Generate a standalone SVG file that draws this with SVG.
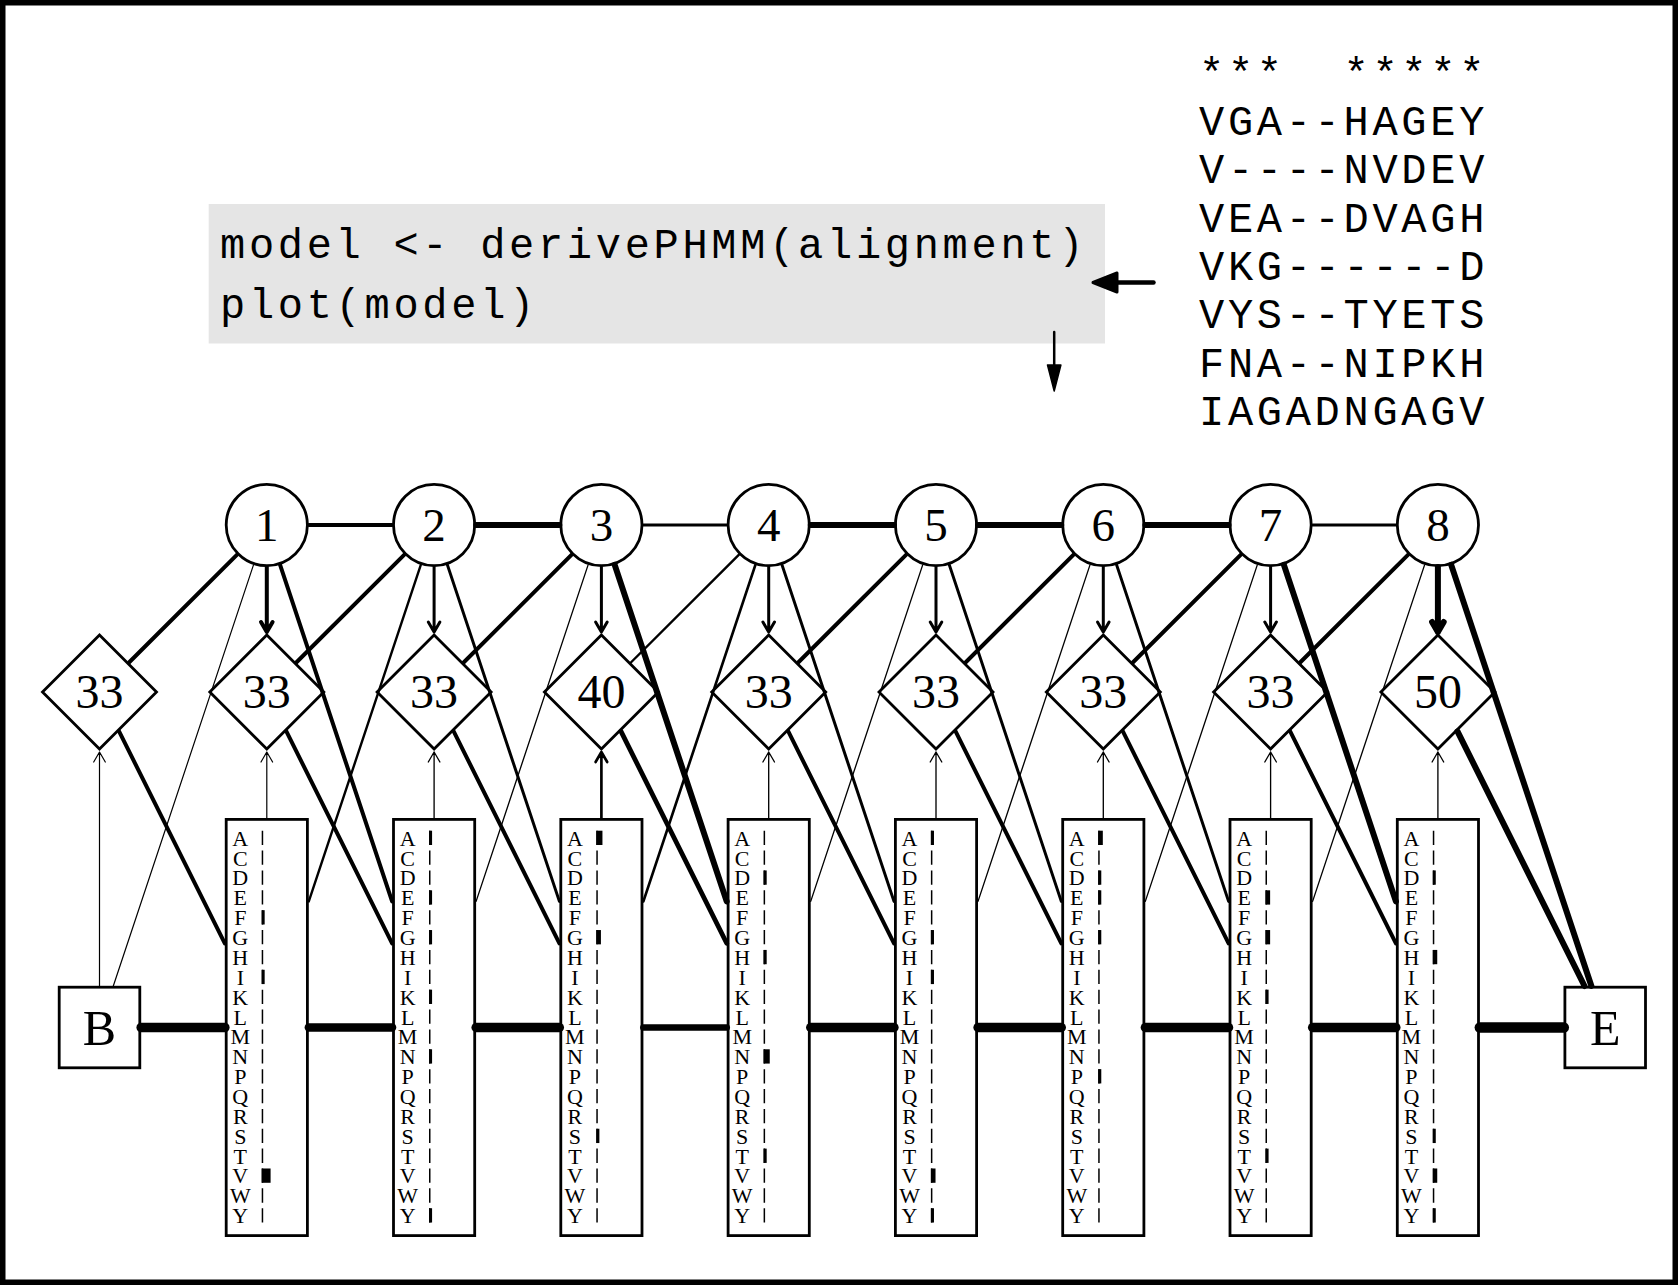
<svg xmlns="http://www.w3.org/2000/svg" width="1678" height="1285" viewBox="0 0 1678 1285">
<style>
.shape{fill:#fff;stroke:#000;stroke-width:2.8}
.num{font-family:"Liberation Serif","Times New Roman",serif;font-size:47px;text-anchor:middle;fill:#000}
.dnum{font-size:48px}
.be{font-size:50px}
.aa{font-family:"Liberation Serif","Times New Roman",serif;font-size:22px;text-anchor:middle;fill:#000}
.mono{font-family:"Liberation Mono","Courier New",monospace;font-size:42px;letter-spacing:3.7px;fill:#000}
.c line,.c path{fill:none;stroke:#000;stroke-linecap:round;stroke-linejoin:round}
.c .fill{fill:#000}
.bar{fill:#000}
</style>
<defs>
<g id="col">
<text class="aa" x="-26.5 -26.5 -26.5 -26.5 -26.5 -26.5 -26.5 -26.5 -26.5 -26.5 -26.5 -26.5 -26.5 -26.5 -26.5 -26.5 -26.5 -26.5 -26.5 -26.5" y="845.7 865.57 885.44 905.31 925.18 945.05 964.92 984.79 1004.66 1024.53 1044.4 1064.27 1084.14 1104.01 1123.88 1143.75 1163.62 1183.49 1203.36 1223.23">ACDEFGHIKLMNPQRSTVWY</text>
<line x1="-4.35" y1="830.7" x2="-4.35" y2="1223" stroke="#000" stroke-width="1.5" stroke-dasharray="14.3 5.57"/>
</g>
<path id="dia" d="M0,-57L57,0L0,57L-57,0Z"/>
</defs>
<rect x="0" y="0" width="1678" height="1285" fill="#fff"/>

<g id="code">
<rect x="208.7" y="204" width="896.3" height="139.5" fill="#e5e5e5"/>
<text class="mono" x="220" y="258">model &lt;- derivePHMM(alignment)</text>
<text class="mono" x="220" y="318">plot(model)</text>
</g>

<g id="alignment">
<text class="mono" x="1199" y="86.7" xml:space="preserve">***  *****</text>
<text class="mono" x="1199" y="135">VGA--HAGEY</text>
<text class="mono" x="1199" y="183.3">V----NVDEV</text>
<text class="mono" x="1199" y="231.6">VEA--DVAGH</text>
<text class="mono" x="1199" y="279.9">VKG------D</text>
<text class="mono" x="1199" y="328.2">VYS--TYETS</text>
<text class="mono" x="1199" y="376.5">FNA--NIPKH</text>
<text class="mono" x="1199" y="424.8">IAGADNGAGV</text>
</g>

<g id="nodes">
<g id="B"><rect class="shape" x="59.2" y="987.2" width="80.6" height="80.6"/><text class="num be" x="99.5" y="1044.5">B</text></g>
<g id="E"><rect class="shape" x="1564.9" y="987.2" width="80.6" height="80.6"/><text class="num be" x="1605.2" y="1044.5">E</text></g>

<g id="D1"><circle class="shape" cx="266.8" cy="525" r="40.6"/><text class="num" x="266.8" y="541">1</text></g>
<g id="D2"><circle class="shape" cx="434.1" cy="525" r="40.6"/><text class="num" x="434.1" y="541">2</text></g>
<g id="D3"><circle class="shape" cx="601.4" cy="525" r="40.6"/><text class="num" x="601.4" y="541">3</text></g>
<g id="D4"><circle class="shape" cx="768.7" cy="525" r="40.6"/><text class="num" x="768.7" y="541">4</text></g>
<g id="D5"><circle class="shape" cx="936" cy="525" r="40.6"/><text class="num" x="936" y="541">5</text></g>
<g id="D6"><circle class="shape" cx="1103.3" cy="525" r="40.6"/><text class="num" x="1103.3" y="541">6</text></g>
<g id="D7"><circle class="shape" cx="1270.6" cy="525" r="40.6"/><text class="num" x="1270.6" y="541">7</text></g>
<g id="D8"><circle class="shape" cx="1437.9" cy="525" r="40.6"/><text class="num" x="1437.9" y="541">8</text></g>

<g id="I0" transform="translate(99.5,692)"><use href="#dia" class="shape"/><text class="num dnum" x="0" y="16.2">33</text></g>
<g id="I1" transform="translate(266.8,692)"><use href="#dia" class="shape"/><text class="num dnum" x="0" y="16.2">33</text></g>
<g id="I2" transform="translate(434.1,692)"><use href="#dia" class="shape"/><text class="num dnum" x="0" y="16.2">33</text></g>
<g id="I3" transform="translate(601.4,692)"><use href="#dia" class="shape"/><text class="num dnum" x="0" y="16.2">40</text></g>
<g id="I4" transform="translate(768.7,692)"><use href="#dia" class="shape"/><text class="num dnum" x="0" y="16.2">33</text></g>
<g id="I5" transform="translate(936,692)"><use href="#dia" class="shape"/><text class="num dnum" x="0" y="16.2">33</text></g>
<g id="I6" transform="translate(1103.3,692)"><use href="#dia" class="shape"/><text class="num dnum" x="0" y="16.2">33</text></g>
<g id="I7" transform="translate(1270.6,692)"><use href="#dia" class="shape"/><text class="num dnum" x="0" y="16.2">33</text></g>
<g id="I8" transform="translate(1437.9,692)"><use href="#dia" class="shape"/><text class="num dnum" x="0" y="16.2">50</text></g>

<g id="M1" transform="translate(266.8,0)"><rect class="shape" x="-40.6" y="819.4" width="81.2" height="416.2"/><use href="#col"/>
<rect class="bar" x="-5.1" y="910.18" width="2.96" height="14.3"/><rect class="bar" x="-5.1" y="969.79" width="2.96" height="14.3"/><rect class="bar" x="-5.1" y="1168.49" width="8.89" height="14.3"/></g>
<g id="M2" transform="translate(434.1,0)"><rect class="shape" x="-40.6" y="819.4" width="81.2" height="416.2"/><use href="#col"/>
<rect class="bar" x="-5.1" y="830.7" width="3.08" height="14.3"/><rect class="bar" x="-5.1" y="890.31" width="3.08" height="14.3"/><rect class="bar" x="-5.1" y="930.05" width="3.08" height="14.3"/><rect class="bar" x="-5.1" y="989.66" width="3.08" height="14.3"/><rect class="bar" x="-5.1" y="1049.27" width="3.08" height="14.3"/><rect class="bar" x="-5.1" y="1208.23" width="3.08" height="14.3"/></g>
<g id="M3" transform="translate(601.4,0)"><rect class="shape" x="-40.6" y="819.4" width="81.2" height="416.2"/><use href="#col"/>
<rect class="bar" x="-5.1" y="830.7" width="6.15" height="14.3"/><rect class="bar" x="-5.1" y="930.05" width="4.62" height="14.3"/><rect class="bar" x="-5.1" y="1128.75" width="3.08" height="14.3"/></g>
<g id="M4" transform="translate(768.7,0)"><rect class="shape" x="-40.6" y="819.4" width="81.2" height="416.2"/><use href="#col"/>
<rect class="bar" x="-5.1" y="870.44" width="3.08" height="14.3"/><rect class="bar" x="-5.1" y="949.92" width="3.08" height="14.3"/><rect class="bar" x="-5.1" y="1049.27" width="6.15" height="14.3"/><rect class="bar" x="-5.1" y="1148.62" width="3.08" height="14.3"/></g>
<g id="M5" transform="translate(936,0)"><rect class="shape" x="-40.6" y="819.4" width="81.2" height="416.2"/><use href="#col"/>
<rect class="bar" x="-5.1" y="830.7" width="3.08" height="14.3"/><rect class="bar" x="-5.1" y="930.05" width="3.08" height="14.3"/><rect class="bar" x="-5.1" y="969.79" width="3.08" height="14.3"/><rect class="bar" x="-5.1" y="1168.49" width="4.62" height="14.3"/><rect class="bar" x="-5.1" y="1208.23" width="3.08" height="14.3"/></g>
<g id="M6" transform="translate(1103.3,0)"><rect class="shape" x="-40.6" y="819.4" width="81.2" height="416.2"/><use href="#col"/>
<rect class="bar" x="-5.1" y="830.7" width="4.62" height="14.3"/><rect class="bar" x="-5.1" y="870.44" width="3.08" height="14.3"/><rect class="bar" x="-5.1" y="890.31" width="3.08" height="14.3"/><rect class="bar" x="-5.1" y="930.05" width="3.08" height="14.3"/><rect class="bar" x="-5.1" y="1069.14" width="3.08" height="14.3"/></g>
<g id="M7" transform="translate(1270.6,0)"><rect class="shape" x="-40.6" y="819.4" width="81.2" height="416.2"/><use href="#col"/>
<rect class="bar" x="-5.1" y="890.31" width="4.62" height="14.3"/><rect class="bar" x="-5.1" y="930.05" width="4.62" height="14.3"/><rect class="bar" x="-5.1" y="989.66" width="3.08" height="14.3"/><rect class="bar" x="-5.1" y="1148.62" width="3.08" height="14.3"/></g>
<g id="M8" transform="translate(1437.9,0)"><rect class="shape" x="-40.6" y="819.4" width="81.2" height="416.2"/><use href="#col"/>
<rect class="bar" x="-5.1" y="870.44" width="2.96" height="14.3"/><rect class="bar" x="-5.1" y="949.92" width="4.44" height="14.3"/><rect class="bar" x="-5.1" y="1128.75" width="2.96" height="14.3"/><rect class="bar" x="-5.1" y="1168.49" width="4.44" height="14.3"/><rect class="bar" x="-5.1" y="1208.23" width="2.96" height="14.3"/></g>
</g>

<g id="connectors" class="c">
<!-- code arrows -->
<path d="M1153.5,282.5H1100" stroke-width="4.5"/>
<path class="fill" d="M1093,282.5L1117,273L1117,292Z" stroke-width="3"/>
<path d="M1054.2,332V370" stroke-width="2.5"/>
<path class="fill" d="M1054.2,391L1047.5,365L1060.9,365Z" stroke-width="1.5"/>
<!-- D-D -->
<line x1="308.8" y1="525" x2="392.1" y2="525" stroke-width="4"/>
<line x1="476.1" y1="525" x2="559.4" y2="525" stroke-width="6"/>
<line x1="643.4" y1="525" x2="726.7" y2="525" stroke-width="3"/>
<line x1="810.7" y1="525" x2="894" y2="525" stroke-width="6"/>
<line x1="978" y1="525" x2="1061.3" y2="525" stroke-width="6"/>
<line x1="1145.3" y1="525" x2="1228.6" y2="525" stroke-width="6"/>
<line x1="1312.6" y1="525" x2="1395.9" y2="525" stroke-width="3"/>
<!-- D->I -->
<path d="M266.8,567V632M261,622L266.8,632L272.6,622" stroke-width="4"/>
<path d="M434.1,567V632M428.3,622L434.1,632L439.9,622" stroke-width="3"/>
<path d="M601.4,567V632M595.6,622L601.4,632L607.2,622" stroke-width="3"/>
<path d="M768.7,567V632M762.9,622L768.7,632L774.5,622" stroke-width="3"/>
<path d="M936,567V632M930.2,622L936,632L941.8,622" stroke-width="3"/>
<path d="M1103.3,567V632M1097.5,622L1103.3,632L1109.1,622" stroke-width="3"/>
<path d="M1270.6,567V632M1264.8,622L1270.6,632L1276.4,622" stroke-width="3"/>
<path d="M1437.9,567V632M1432.1,622L1437.9,632L1443.7,622" stroke-width="6"/>
<!-- M->I -->
<path d="M99.5,986V752M93.7,762L99.5,752L105.3,762" stroke-width="1.2"/>
<path d="M266.8,818V752M261,762L266.8,752L272.6,762" stroke-width="1.2"/>
<path d="M434.1,818V752M428.3,762L434.1,752L439.9,762" stroke-width="1.33"/>
<path d="M601.4,818V752M595.6,762L601.4,752L607.2,762" stroke-width="2.67"/>
<path d="M768.7,818V752M762.9,762L768.7,752L774.5,762" stroke-width="1.33"/>
<path d="M936,818V752M930.2,762L936,752L941.8,762" stroke-width="1.33"/>
<path d="M1103.3,818V752M1097.5,762L1103.3,752L1109.1,762" stroke-width="1.33"/>
<path d="M1270.6,818V752M1264.8,762L1270.6,752L1276.4,762" stroke-width="1.33"/>
<path d="M1437.9,818V752M1432.1,762L1437.9,752L1443.7,762" stroke-width="1.33"/>
<!-- D->M -->
<line x1="280.1" y1="564.9" x2="392.1" y2="901.4" stroke-width="4"/>
<line x1="447.4" y1="564.9" x2="559.4" y2="901.4" stroke-width="3"/>
<line x1="614.7" y1="564.9" x2="726.7" y2="901.4" stroke-width="6"/>
<line x1="782" y1="564.9" x2="894" y2="901.4" stroke-width="3"/>
<line x1="949.3" y1="564.9" x2="1061.3" y2="901.4" stroke-width="3"/>
<line x1="1116.6" y1="564.9" x2="1228.6" y2="901.4" stroke-width="3"/>
<line x1="1283.9" y1="564.9" x2="1395.9" y2="901.4" stroke-width="6"/>
<line x1="1451.2" y1="564.9" x2="1591.4" y2="986" stroke-width="6"/>
<!-- I->M -->
<line x1="119.1" y1="731.4" x2="224.8" y2="943.3" stroke-width="4"/>
<line x1="286.4" y1="731.4" x2="392.1" y2="943.3" stroke-width="4"/>
<line x1="453.7" y1="731.4" x2="559.4" y2="943.3" stroke-width="4"/>
<line x1="621" y1="731.4" x2="726.7" y2="943.3" stroke-width="4.8"/>
<line x1="788.3" y1="731.4" x2="894" y2="943.3" stroke-width="4"/>
<line x1="955.6" y1="731.4" x2="1061.3" y2="943.3" stroke-width="4"/>
<line x1="1122.9" y1="731.4" x2="1228.6" y2="943.3" stroke-width="4"/>
<line x1="1290.2" y1="731.4" x2="1395.9" y2="943.3" stroke-width="4"/>
<line x1="1457.5" y1="731.4" x2="1584.5" y2="986" stroke-width="6"/>
<!-- I->D -->
<line x1="129" y1="662.5" x2="237.1" y2="554.7" stroke-width="4"/>
<line x1="296.3" y1="662.5" x2="404.4" y2="554.7" stroke-width="4"/>
<line x1="463.6" y1="662.5" x2="571.7" y2="554.7" stroke-width="4"/>
<line x1="630.9" y1="662.5" x2="739" y2="554.7" stroke-width="2.4"/>
<line x1="798.2" y1="662.5" x2="906.3" y2="554.7" stroke-width="4"/>
<line x1="965.5" y1="662.5" x2="1073.6" y2="554.7" stroke-width="4"/>
<line x1="1132.8" y1="662.5" x2="1240.9" y2="554.7" stroke-width="4"/>
<line x1="1300.1" y1="662.5" x2="1408.2" y2="554.7" stroke-width="4"/>
<!-- M->D -->
<line x1="113.3" y1="986" x2="253.5" y2="564.9" stroke-width="1.2"/>
<line x1="308.8" y1="901.4" x2="420.8" y2="564.9" stroke-width="2.4"/>
<line x1="476.1" y1="901.4" x2="588.1" y2="564.9" stroke-width="1.33"/>
<line x1="643.4" y1="901.4" x2="755.4" y2="564.9" stroke-width="2.67"/>
<line x1="810.7" y1="901.4" x2="922.7" y2="564.9" stroke-width="1.33"/>
<line x1="978" y1="901.4" x2="1090" y2="564.9" stroke-width="1.33"/>
<line x1="1145.3" y1="901.4" x2="1257.3" y2="564.9" stroke-width="1.33"/>
<line x1="1312.6" y1="901.4" x2="1424.6" y2="564.9" stroke-width="1.33"/>
<!-- M->M -->
<line x1="141.2" y1="1027.5" x2="224.8" y2="1027.5" stroke-width="9.6"/>
<line x1="308.8" y1="1027.5" x2="392.1" y2="1027.5" stroke-width="8.4"/>
<line x1="476.1" y1="1027.5" x2="559.4" y2="1027.5" stroke-width="9.33"/>
<line x1="643.4" y1="1027.5" x2="726.7" y2="1027.5" stroke-width="6.67"/>
<line x1="810.7" y1="1027.5" x2="894" y2="1027.5" stroke-width="9.33"/>
<line x1="978" y1="1027.5" x2="1061.3" y2="1027.5" stroke-width="9.33"/>
<line x1="1145.3" y1="1027.5" x2="1228.6" y2="1027.5" stroke-width="9.33"/>
<line x1="1312.6" y1="1027.5" x2="1395.9" y2="1027.5" stroke-width="9.33"/>
<line x1="1479.9" y1="1027.5" x2="1563.7" y2="1027.5" stroke-width="10.67"/>
</g>

<rect x="2.75" y="2.75" width="1672.5" height="1279.5" fill="none" stroke="#000" stroke-width="5.5"/>
</svg>
